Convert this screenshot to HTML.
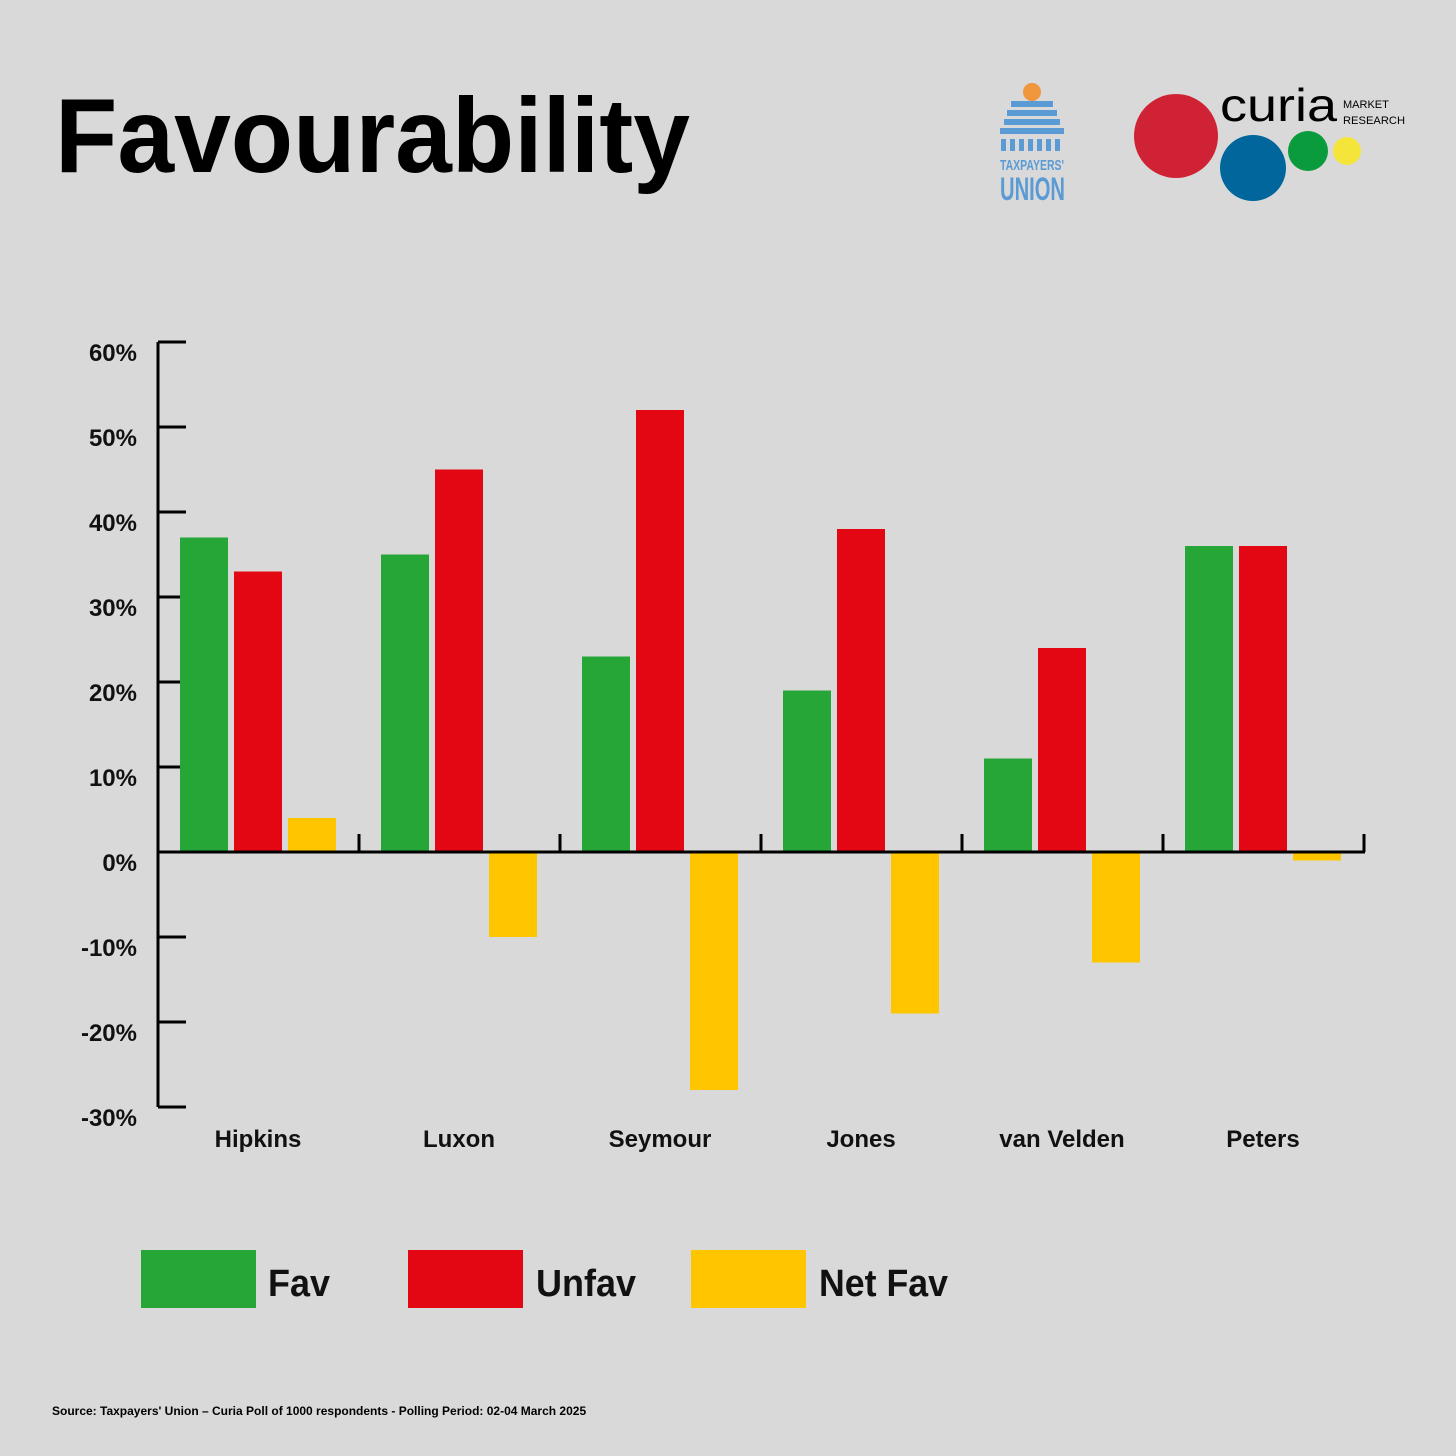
<!DOCTYPE html>
<html><head><meta charset="utf-8"><style>
html,body{margin:0;padding:0;background:#d9d9d9;}
svg{display:block;font-family:"Liberation Sans",Arial,sans-serif;}
</style></head><body>
<svg id="chart" width="1456" height="1456" viewBox="0 0 1456 1456">
<rect width="1456" height="1456" fill="#d9d9d9"/>
<text x="55" y="172" font-size="106" font-weight="bold" fill="#000" textLength="635" lengthAdjust="spacingAndGlyphs">Favourability</text>
<g>
<circle cx="1032" cy="92" r="9" fill="#f0963c"/>
<rect x="1011" y="101" width="42" height="6" fill="#5b9bd5"/>
<rect x="1007" y="110" width="50" height="6" fill="#5b9bd5"/>
<rect x="1004" y="119" width="56" height="6" fill="#5b9bd5"/>
<rect x="1000" y="128" width="64" height="6" fill="#5b9bd5"/>
<g fill="#5b9bd5">
<rect x="1001" y="139" width="5" height="12"/><rect x="1010" y="139" width="5" height="12"/><rect x="1019" y="139" width="5" height="12"/><rect x="1028" y="139" width="5" height="12"/><rect x="1037" y="139" width="5" height="12"/><rect x="1046" y="139" width="5" height="12"/><rect x="1055" y="139" width="5" height="12"/>
</g>
<text x="1000" y="170" font-size="15" font-weight="bold" fill="#5b9bd5" textLength="64" lengthAdjust="spacingAndGlyphs">TAXPAYERS'</text>
<text x="1000" y="200" font-size="32" font-weight="bold" fill="#5b9bd5" textLength="65" lengthAdjust="spacingAndGlyphs">UNION</text>
</g>
<g>
<circle cx="1176" cy="136" r="42" fill="#cf2234"/>
<circle cx="1253" cy="168" r="33" fill="#00669c"/>
<circle cx="1308" cy="151" r="20" fill="#0a9b3c"/>
<circle cx="1347" cy="151" r="14" fill="#f5e53a"/>
<text x="1220" y="121" font-size="46" fill="#000" textLength="117" lengthAdjust="spacingAndGlyphs">curia</text>
<text x="1343" y="108" font-size="11" fill="#000">MARKET</text>
<text x="1343" y="124" font-size="11" fill="#000" textLength="62" lengthAdjust="spacingAndGlyphs">RESEARCH</text>
</g>
<g id="plot"></g>
<g>
<g><rect x="141" y="1250" width="115" height="58" fill="#26a637"/><text x="268" y="1296" font-size="38" font-weight="bold" fill="#111" textLength="62" lengthAdjust="spacingAndGlyphs">Fav</text></g>
<g><rect x="408" y="1250" width="115" height="58" fill="#e30613"/><text x="536" y="1296" font-size="38" font-weight="bold" fill="#111" textLength="100" lengthAdjust="spacingAndGlyphs">Unfav</text></g>
<g><rect x="691" y="1250" width="115" height="58" fill="#ffc600"/><text x="819" y="1296" font-size="38" font-weight="bold" fill="#111" textLength="129" lengthAdjust="spacingAndGlyphs">Net Fav</text></g>
</g>
<text x="52" y="1415" font-size="12" font-weight="bold" fill="#000">Source: Taxpayers' Union – Curia Poll of 1000 respondents -  Polling Period: 02-04 March 2025</text>
</svg>
<script>
const categories = ["Hipkins","Luxon","Seymour","Jones","van Velden","Peters"];
const favValues = [37,35,23,19,11,36];
const unfavValues = [33,45,52,38,24,36];
const netValues = [4,-10,-28,-19,-13,-1];
const yTicks = [60,50,40,30,20,10,0,-10,-20,-30];
const yTickLabels = ["60%","50%","40%","30%","20%","10%","0%","-10%","-20%","-30%"];

const NS = "http://www.w3.org/2000/svg";
const plot = document.getElementById("plot");
const y = v => 852 - v * 8.5;
const groupW = 201;
const x0 = 158;
const gx = i => x0 + i * groupW;
function mk(tag, attrs){const e=document.createElementNS(NS,tag);for(const k in attrs)e.setAttribute(k,attrs[k]);plot.appendChild(e);return e;}

let ax = mk("line",{x1:x0,y1:y(60),x2:x0,y2:y(-30),stroke:"#000","stroke-width":3});


yTicks.forEach((t,i)=>{
  const tk = mk("line",{x1:x0,y1:y(t),x2:x0+28,y2:y(t),stroke:"#000","stroke-width":3});
  
  
  const lb = mk("text",{x:137,y:y(t)+19,"text-anchor":"end","font-size":24,"font-weight":"bold",fill:"#111"});
  lb.textContent = yTickLabels[i];
  
  
});

const series = [[favValues,"#26a637","fav"],[unfavValues,"#e30613","unfav"],[netValues,"#ffc600","net-fav"]];
categories.forEach((c,i)=>{
  series.forEach(([vals,col,nm],s)=>{
    const v = vals[i];
    const bx = gx(i) + 22 + s*54;
    const r = mk("rect",{x:bx,y:Math.min(y(v),y(0)),width:48,height:Math.abs(y(v)-y(0)),fill:col});
    
    
  });
  const lb = mk("text",{x:gx(i)+100,y:1147,"text-anchor":"middle","font-size":24,"font-weight":"bold",fill:"#111"});
  lb.textContent = c;
  
  
});
let xa = mk("line",{x1:x0,y1:y(0),x2:x0+categories.length*groupW+1,y2:y(0),stroke:"#000","stroke-width":3});


for(let i=0;i<=categories.length;i++){
  const tk = mk("line",{x1:gx(i),y1:y(0)-18,x2:gx(i),y2:y(0),stroke:"#000","stroke-width":3});
  
  
}
</script>
</body></html>
